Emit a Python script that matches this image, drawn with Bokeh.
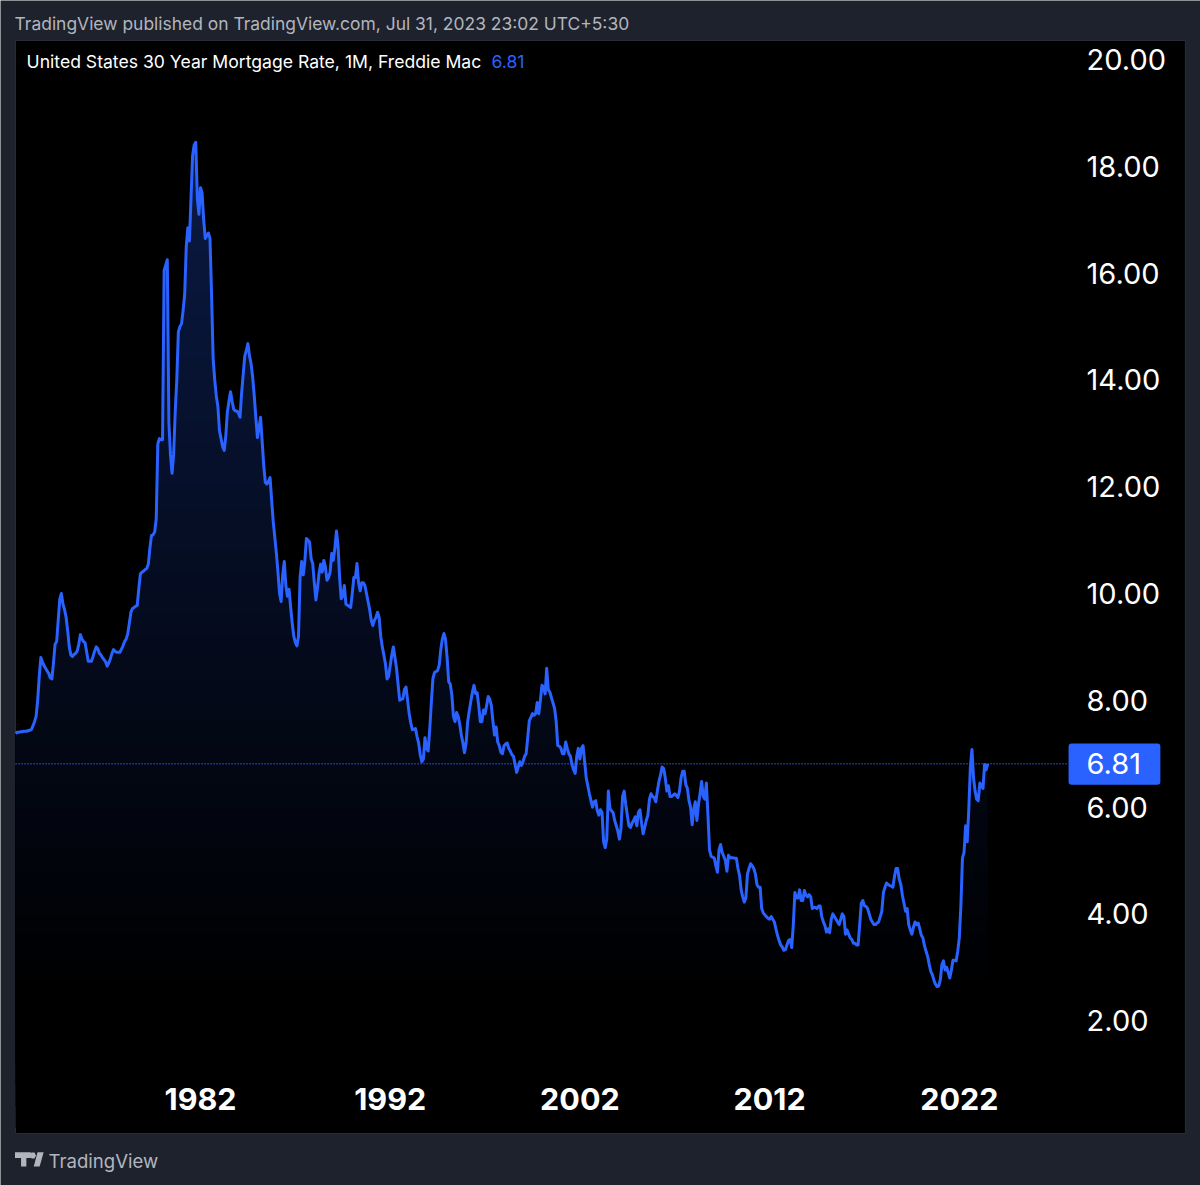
import numpy as np
from bokeh.embed import file_html
from bokeh.models import BoxAnnotation, ColumnDataSource, FixedTicker, Label, NumeralTickFormatter, Range1d
from bokeh.plotting import figure
from bokeh.resources import INLINE

# monthly closes, one list per decade (first month Apr 1972)
rates_1970s = [
    7.38, 7.40, 7.40, 7.41, 7.41, 7.42, 7.42, 7.42, 7.43,
    7.44, 7.45, 7.52, 7.60, 7.70, 8.00, 8.45, 8.80, 8.72, 8.65, 8.60, 8.55,
    8.50, 8.42, 8.40, 8.70, 9.05, 9.10, 9.50, 9.90, 10.00, 9.80, 9.70, 9.55,
    9.30, 9.00, 8.85, 8.82, 8.86, 8.88, 8.92, 9.05, 9.23, 9.15, 9.10, 9.08,
    8.90, 8.73, 8.73, 8.73, 8.82, 8.92, 9.00, 8.97, 8.88, 8.85, 8.80, 8.76,
    8.72, 8.64, 8.70, 8.78, 8.88, 8.95, 8.92, 8.90, 8.90, 8.90, 8.96, 9.02,
    9.10, 9.15, 9.25, 9.45, 9.65, 9.72, 9.74, 9.76, 9.78, 10.10, 10.37, 10.40,
    10.42, 10.45, 10.47, 10.55, 10.85, 11.09, 11.10, 11.15, 11.40, 12.80, 12.90, 12.88,
]
rates_1980s = [
    12.88, 16.05, 16.15, 16.25, 13.20, 12.60, 12.25, 12.60, 13.40, 14.00, 14.90, 15.00,
    15.05, 15.30, 15.60, 16.50, 16.85, 16.60, 17.40, 18.20, 18.40, 18.45, 17.40, 17.10,
    17.60, 17.50, 17.00, 16.65, 16.70, 16.75, 16.65, 15.60, 14.40, 14.00, 13.70, 13.50,
    13.05, 12.90, 12.75, 12.68, 12.95, 13.40, 13.60, 13.78, 13.60, 13.45, 13.42, 13.42,
    13.38, 13.30, 13.75, 14.10, 14.45, 14.55, 14.68, 14.45, 14.30, 14.05, 13.70, 13.30,
    12.92, 13.10, 13.30, 12.85, 12.40, 12.08, 12.05, 12.10, 12.17, 11.75, 11.35, 11.05,
    10.75, 10.40, 10.00, 9.85, 10.35, 10.60, 10.15, 9.95, 10.08, 9.75, 9.45, 9.20,
    9.08, 9.02, 9.20, 10.30, 10.60, 10.35, 10.60, 11.03, 11.00, 10.96, 10.65, 10.56,
    10.20, 9.88, 10.10, 10.38, 10.55, 10.40, 10.62, 10.50, 10.25, 10.30, 10.40, 10.75,
    10.62, 10.85, 11.17, 10.90, 10.30, 9.90, 9.95, 10.15, 9.80, 9.78, 9.76, 9.74,
]
rates_1990s = [
    10.00, 10.30, 10.30, 10.56, 10.20, 10.05, 10.20, 10.20, 10.15, 10.00, 9.85, 9.70,
    9.50, 9.40, 9.50, 9.55, 9.65, 9.55, 9.20, 9.00, 8.85, 8.68, 8.40, 8.45,
    8.65, 8.85, 9.00, 8.80, 8.60, 8.30, 8.00, 8.02, 8.03, 8.20, 8.25, 8.00,
    7.75, 7.58, 7.45, 7.46, 7.47, 7.32, 7.20, 6.98, 6.85, 6.90, 7.30, 7.10,
    7.05, 7.45, 7.95, 8.40, 8.52, 8.54, 8.56, 8.66, 8.95, 9.15, 9.25, 9.14,
    8.80, 8.35, 8.30, 8.10, 7.70, 7.60, 7.77, 7.70, 7.55, 7.35, 7.20, 7.02,
    7.20, 7.60, 7.80, 7.98, 8.15, 8.28, 8.13, 8.14, 7.90, 7.60, 7.60, 7.82,
    7.75, 7.90, 8.07, 8.02, 7.90, 7.60, 7.35, 7.50, 7.22, 7.15, 7.03, 7.00,
    7.15, 7.18, 7.20, 7.10, 7.05, 6.98, 6.95, 6.80, 6.65, 6.75, 6.85, 6.78,
    6.85, 6.95, 7.00, 7.30, 7.62, 7.68, 7.75, 7.72, 7.75, 7.96, 7.75, 8.00,
]
rates_2000s = [
    8.28, 8.25, 8.12, 8.60, 8.20, 8.15, 8.05, 7.95, 7.85, 7.60, 7.15, 7.14,
    7.10, 7.00, 7.00, 7.22, 7.10, 7.00, 6.95, 6.80, 6.70, 6.63, 6.95, 7.10,
    6.90, 7.10, 7.15, 6.85, 6.55, 6.40, 6.25, 6.12, 6.00, 6.10, 6.12, 5.93,
    5.85, 5.95, 5.90, 5.35, 5.24, 5.40, 6.30, 5.97, 5.93, 5.90, 5.75, 5.65,
    5.55, 5.40, 5.60, 6.20, 6.30, 6.05, 5.85, 5.65, 5.62, 5.70, 5.75, 5.82,
    5.65, 5.90, 5.95, 5.70, 5.50, 5.62, 5.75, 5.85, 6.15, 6.25, 6.20, 6.18,
    6.10, 6.30, 6.48, 6.60, 6.75, 6.72, 6.55, 6.30, 6.40, 6.20, 6.20, 6.22,
    6.25, 6.22, 6.18, 6.30, 6.55, 6.67, 6.67, 6.42, 6.35, 6.12, 6.00, 5.67,
    5.95, 6.10, 5.75, 6.05, 6.25, 6.48, 6.20, 6.15, 6.45, 5.85, 5.20, 5.08,
    5.06, 5.05, 4.90, 4.78, 5.20, 5.30, 5.15, 5.08, 5.00, 4.80, 5.10, 5.05,
]
rates_2010s = [
    5.05, 5.05, 5.04, 5.04, 4.85, 4.72, 4.45, 4.32, 4.22, 4.30, 4.75, 4.85,
    4.94, 4.90, 4.85, 4.75, 4.55, 4.50, 4.50, 4.10, 4.02, 3.98, 3.95, 3.92,
    3.90, 3.95, 3.90, 3.85, 3.72, 3.60, 3.50, 3.42, 3.38, 3.32, 3.33, 3.42,
    3.50, 3.52, 3.37, 3.80, 4.40, 4.30, 4.30, 4.45, 4.25, 4.25, 4.44, 4.35,
    4.32, 4.36, 4.32, 4.10, 4.12, 4.12, 4.10, 4.15, 4.15, 3.95, 3.85, 3.78,
    3.66, 3.72, 3.65, 3.90, 4.00, 3.95, 3.90, 3.85, 3.80, 3.90, 4.00, 3.95,
    3.62, 3.70, 3.62, 3.55, 3.52, 3.45, 3.45, 3.42, 3.42, 3.80, 4.20, 4.25,
    4.15, 4.14, 4.10, 4.00, 3.90, 3.85, 3.80, 3.80, 3.83, 3.85, 3.95, 4.05,
    4.40, 4.50, 4.58, 4.55, 4.53, 4.52, 4.50, 4.70, 4.85, 4.85, 4.65, 4.55,
    4.35, 4.20, 4.05, 4.10, 3.80, 3.70, 3.62, 3.75, 3.85, 3.80, 3.83, 3.72,
]
rates_2020s = [
    3.60, 3.55, 3.40, 3.30, 3.20, 3.05, 2.92, 2.86, 2.75, 2.68, 2.64, 2.65,
    2.77, 3.05, 3.12, 2.95, 3.00, 2.90, 2.80, 2.95, 3.13, 3.13, 3.12, 3.30,
    3.55, 4.15, 5.05, 5.15, 5.65, 5.35, 5.95, 6.75, 7.08, 6.55, 6.30, 6.15,
    6.12, 6.45, 6.40, 6.35, 6.80, 6.70, 6.81,
]
y_ticks = [2, 4, 6, 8, 10, 12, 14, 16, 18, 20]
x_ticks = [1982, 1992, 2002, 2012, 2022]
last_value = 6.81

rates = np.array(rates_1970s + rates_1980s + rates_1990s + rates_2000s + rates_2010s + rates_2020s)
years = 1972.25 + np.arange(len(rates)) / 12

BG = "#1e222d"
BLUE = "#2962ff"
FONT = "Inter"

# the frame fills the whole page, the black chart panel is a box inside it
p = figure(
    width=1200, height=1185,
    x_range=Range1d(1971.457, 2034.715), y_range=Range1d(-1.086, 21.105),
    x_axis_location="below", y_axis_location="right",
    background_fill_color=BG, border_fill_color=BG, outline_line_color=None,
    min_border=0, toolbar_location=None, tools="", output_backend="svg",
)
p.grid.visible = False

p.quad(left=[1972.25], right=[2033.92], top=[20.356], bottom=[-0.112], fill_color="#000000", line_color="#2a2e39", line_width=1)

# area under the line: fades out towards the bottom, painted band by band
for lo in np.arange(0, 18.6, 0.4):
    alpha = max(lo - 2, 0) * 0.0165
    color = "#%02x%02x%02x" % (int(41 * alpha), int(98 * alpha), int(255 * alpha))
    p.varea(x=years, y1=lo, y2=np.maximum(rates, lo), fill_color=color, fill_alpha=1)

# dotted last value line
p.line(x=[1972.25, 2027.76], y=[last_value, last_value], line_color=BLUE, line_width=1.5, line_dash=[1, 2])

src = ColumnDataSource(data=dict(year=years, rate=rates))
p.line("year", "rate", source=src, line_color=BLUE, line_width=3, line_join="round")

# last value badge
p.add_layout(BoxAnnotation(left=2027.76, right=2032.6, top=7.19, bottom=6.42, fill_color=BLUE, fill_alpha=1,
                           line_color=None, border_radius=3))
p.add_layout(Label(x=2028.71, y=last_value, text="6.81", text_color="#ffffff", text_font=FONT,
                   text_font_size="29px", text_baseline="middle"))

yax = p.yaxis[0]
yax.ticker = FixedTicker(ticks=y_ticks)
yax.formatter = NumeralTickFormatter(format="0.00")
yax.fixed_location = 2028.71
yax.major_label_standoff = 0
yax.major_label_text_color = "#ffffff"
yax.major_label_text_font = FONT
yax.major_label_text_font_size = "29px"

xax = p.xaxis[0]
xax.ticker = FixedTicker(ticks=x_ticks)
xax.formatter = NumeralTickFormatter(format="0")
xax.fixed_location = 0.74
xax.major_label_standoff = 0
xax.major_label_text_color = "#ffffff"
xax.major_label_text_font = FONT
xax.major_label_text_font_style = "bold"
xax.major_label_text_font_size = "30.5px"

for ax in (xax, yax):
    ax.axis_line_color = None
    ax.major_tick_line_color = None
    ax.minor_tick_line_color = None
    ax.major_tick_out = 0
    ax.major_tick_in = 0
    ax.minor_tick_out = 0
    ax.minor_tick_in = 0

# texts around the chart
p.add_layout(Label(x=1972.2, y=20.68, text="TradingView published on TradingView.com, Jul 31, 2023 23:02 UTC+5:30",
                   text_color="#b2b5be", text_font=FONT, text_font_size="17.45px", text_baseline="middle"))
p.add_layout(Label(x=1972.83, y=19.955, text="United States 30 Year Mortgage Rate, 1M, Freddie Mac",
                   text_color="#ffffff", text_font=FONT, text_font_size="17.6px", text_baseline="middle"))
p.add_layout(Label(x=1997.34, y=19.955, text="6.81", text_color=BLUE, text_font=FONT,
                   text_font_size="17.6px", text_baseline="middle"))
p.add_layout(Label(x=1973.99, y=-0.618, text="TradingView", text_color="#b2b5be", text_font=FONT,
                   text_font_size="18.6px", text_baseline="middle"))

# logo in the footer
logo_t = ([1972.22, 1973.06, 1973.06, 1972.82, 1972.82, 1972.54, 1972.54, 1972.22],
          [-0.463, -0.463, -0.571, -0.571, -0.73, -0.73, -0.571, -0.571])
logo_slash = ([1973.41, 1973.73, 1973.52, 1973.21], [-0.463, -0.463, -0.73, -0.73])
logo_dot = ([1973.09, 1973.25, 1973.33, 1973.25, 1973.09, 1973.01], [-0.468, -0.468, -0.524, -0.58, -0.58, -0.524])
for xs, ys in (logo_t, logo_slash, logo_dot):
    p.patch(x=xs, y=ys, fill_color="#b2b5be", line_color=None)

open("out.html", "w").write(file_html(p, INLINE))
